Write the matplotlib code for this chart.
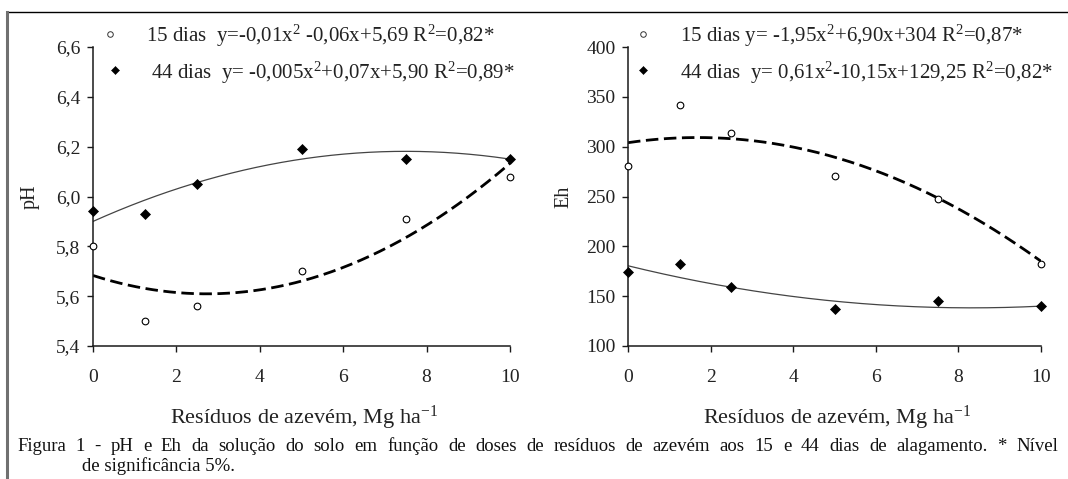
import numpy as np
import matplotlib
matplotlib.use('Agg')
import matplotlib.pyplot as plt
from matplotlib.lines import Line2D

plt.rcParams['font.family'] = ['Liberation Serif', 'DejaVu Serif']
plt.rcParams['mathtext.fontset'] = 'custom'
plt.rcParams['mathtext.rm'] = 'Liberation Serif'
plt.rcParams['mathtext.it'] = 'Liberation Serif:italic'
plt.rcParams['mathtext.default'] = 'regular'
plt.rcParams['lines.scale_dashes'] = False

# ---------------- data ----------------
doses = [0, 1.25, 2.5, 5, 7.5, 10]
ph_15 = [5.80, 5.50, 5.56, 5.70, 5.91, 6.08]
ph_44 = [5.94, 5.93, 6.05, 6.19, 6.15, 6.15]
eh_15 = [281, 342, 314, 271, 247, 182]
eh_44 = [174, 182, 159, 137, 145, 140]

# fitted quadratic trend lines as drawn: y = a x^2 + b x + c
ph_15_fit = [0.0099, -0.054, 5.683]
ph_44_fit = [-0.005, 0.075, 5.90]
eh_15_fit = [-1.80, 6.10, 304.0]
eh_44_fit = [0.61, -10.15, 180.5]

x_ticks = [0, 2, 4, 6, 8, 10]
x_tick_labels = ['0', '2', '4', '6', '8', '10']
ph_ticks = [5.4, 5.6, 5.8, 6.0, 6.2, 6.4, 6.6]
ph_tick_labels = ['5,4', '5,6', '5,8', '6,0', '6,2', '6,4', '6,6']
eh_ticks = [100, 150, 200, 250, 300, 350, 400]
eh_tick_labels = ['100', '150', '200', '250', '300', '350', '400']

ph_leg_15 = r"15 dias  y=-0,01x$^{2}$ -0,06x+5,69 R$^{2}$=0,82*"
ph_leg_44 = r"44 dias  y= -0,005x$^{2}$+0,07x+5,90 R$^{2}$=0,89*"
eh_leg_15 = r"15 dias y= -1,95x$^{2}$+6,90x+304 R$^{2}$=0,87*"
eh_leg_44 = r"44 dias  y= 0,61x$^{2}$-10,15x+129,25 R$^{2}$=0,82*"

x_label = r"Resíduos de azevém, Mg ha$^{\mathdefault{-1}}$"
caption_1 = ("Figura 1 - pH e Eh da solução do solo em função de doses de resíduos "
             "de azevém aos 15 e 44 dias de alagamento. * Nível")
caption_2 = "de significância 5%."

# ---------------- figure ----------------
W, H = 1068, 479
fig = plt.figure(figsize=(W / 100, H / 100), dpi=100)
fig.patch.set_facecolor('white')


def fx(px):
    return px / W


def fy(py):
    return 1 - py / H


ax1 = fig.add_axes([fx(93), fy(346), fx(510 - 93), (346 - 47) / H])
ax2 = fig.add_axes([fx(628), fy(346), fx(1041 - 628), (346 - 47) / H])

xs = np.linspace(0, 10, 300)

TICK_FS = 14
LEG_FS = 15
TXT = '#222222'


def style_axis(ax, yticks, ylabels, ylim):
    ax.set_xlim(0, 10)
    ax.set_ylim(*ylim)
    for s in ['top', 'right']:
        ax.spines[s].set_visible(False)
    for s in ['left', 'bottom']:
        ax.spines[s].set_color('#1a1a1a')
        ax.spines[s].set_linewidth(1.1)
    ax.set_xticks(x_ticks)
    ax.set_xticklabels(x_tick_labels)
    ax.set_yticks(yticks)
    ax.set_yticklabels(ylabels)
    ax.tick_params(axis='both', direction='out', length=4, width=1.0,
                   color='#1a1a1a', labelsize=TICK_FS, labelcolor=TXT)
    ax.tick_params(axis='x', pad=12.5)
    ax.tick_params(axis='y', pad=5)
    ax.set_facecolor('none')


def draw(ax, y15, y44, f15, f44):
    ax.plot(xs, np.polyval(f15, xs), color='black', lw=2.0,
            dashes=(9, 4), zorder=2)
    ax.plot(xs, np.polyval(f44, xs), color='#444444', lw=0.9, zorder=2)
    ax.plot(doses, y15, linestyle='none', marker='o', ms=4.8,
            mfc='white', mec='black', mew=0.8, clip_on=False, zorder=4)
    ax.plot(doses, y44, linestyle='none', marker='D', ms=4.6,
            mfc='black', mec='black', mew=0.5, clip_on=False, zorder=4)


style_axis(ax1, ph_ticks, ph_tick_labels, (5.4, 6.6))
style_axis(ax2, eh_ticks, eh_tick_labels, (100, 400))
draw(ax1, ph_15, ph_44, ph_15_fit, ph_44_fit)
draw(ax2, eh_15, eh_44, eh_15_fit, eh_44_fit)

ax1.set_ylabel('pH', fontsize=14.5, va='center', color=TXT)
ax1.yaxis.set_label_coords(-63 / 417, 0.5)
ax2.set_ylabel('Eh', fontsize=14.5, va='center', color=TXT)
ax2.yaxis.set_label_coords(-64 / 413, 0.5)

# x labels
for cx in [(93 + 510) / 2, (628 + 1041) / 2]:
    fig.text(fx(cx + 3), fy(424), x_label, ha='center', va='baseline',
             fontsize=16, color=TXT)

# legend-like annotations
leg_items = [
    (110, 33.5, 146, 42, 'o', ph_leg_15),
    (115, 70, 151, 78.5, 'D', ph_leg_44),
    (643, 33.5, 680, 42, 'o', eh_leg_15),
    (643, 70, 680, 78.5, 'D', eh_leg_44),
]
for mx, my, tx, ty, mk, txt in leg_items:
    if mk == 'o':
        fig.add_artist(Line2D([fx(mx)], [fy(my)], marker='o', ms=4.0,
                              mfc='white', mec='#333333', mew=0.7,
                              linestyle='none'))
    else:
        fig.add_artist(Line2D([fx(mx)], [fy(my)], marker='D', ms=4.0,
                              mfc='black', mec='black', mew=0.4,
                              linestyle='none'))
    fig.text(fx(tx), fy(ty), txt, ha='left', va='baseline',
             fontsize=LEG_FS, color=TXT)

# frame lines of the figure box
fig.add_artist(Line2D([fx(7), 1.0], [fy(12), fy(12)], color='black', lw=1.0))
fig.add_artist(Line2D([fx(7), fx(7)], [fy(12), 0.0], color='#707070', lw=2.2))

# caption (justified first line)
CAP_FS = 13.5
renderer = fig.canvas.get_renderer()
words = caption_1.split(' ')
objs = [fig.text(0, fy(451), w, ha='left', va='baseline', fontsize=CAP_FS,
                 color='#111111') for w in words]
widths = [o.get_window_extent(renderer).width for o in objs]
x0, x1 = 17, 1058
gap = ((x1 - x0) - sum(widths)) / (len(words) - 1)
xpos = x0
for o, w in zip(objs, widths):
    o.set_x(fx(xpos))
    xpos += w + gap
fig.text(fx(82), fy(471), caption_2, ha='left', va='baseline',
         fontsize=CAP_FS, color='#111111')

fig.savefig('out.png', dpi=100)
